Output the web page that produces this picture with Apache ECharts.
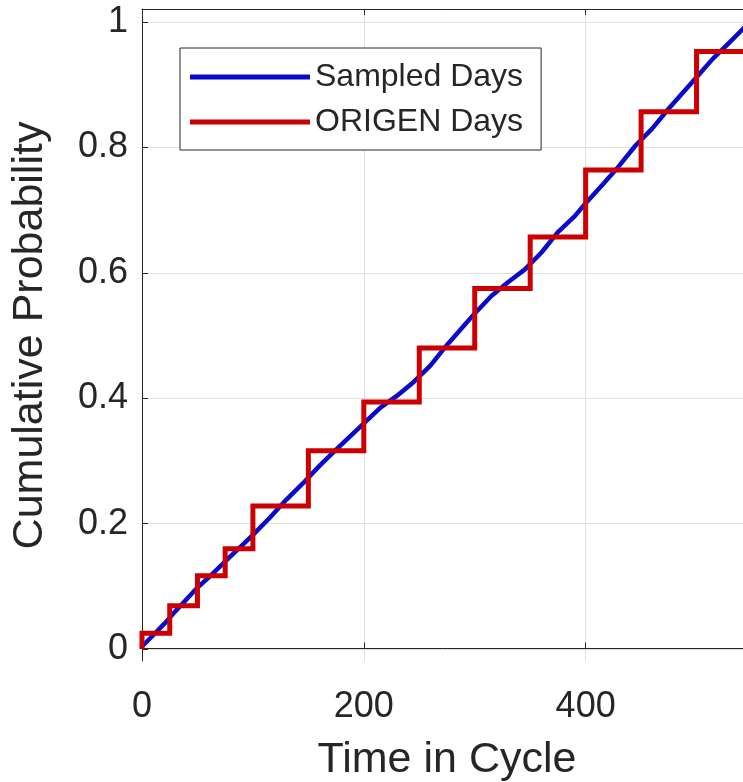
<!DOCTYPE html>
<html>
<head>
<meta charset="utf-8">
<script src="https://cdn.jsdelivr.net/npm/echarts@6/dist/echarts.min.js"></script>
<style>
html,body{margin:0;padding:0;background:#fff;}
#chart{width:743px;height:782px;}
</style>
</head>
<body>
<div id="chart"></div>
<script>
// Sampled cumulative distribution (blue)
const sampledDays = [0, 10, 20, 30, 40, 50, 60, 70, 80, 90, 100, 115, 130, 145, 160, 175, 190, 200, 215, 230, 245, 260, 275, 290, 300, 315, 330, 345, 360, 375, 390, 400, 415, 430, 445, 460, 475, 490, 500, 515, 530, 548];
const sampledProb = [0.004, 0.022, 0.040, 0.060, 0.079, 0.098, 0.114, 0.131, 0.148, 0.165, 0.182, 0.209, 0.238, 0.264, 0.292, 0.318, 0.343, 0.360, 0.385, 0.404, 0.426, 0.452, 0.485, 0.515, 0.535, 0.563, 0.585, 0.605, 0.632, 0.665, 0.690, 0.711, 0.740, 0.770, 0.803, 0.830, 0.862, 0.892, 0.912, 0.942, 0.968, 1.0];
// ORIGEN step function (red): step start days and level after each step
const origenDays = [0, 25, 50, 75, 100, 150, 200, 250, 300, 350, 400, 450, 500];
const origenProb = [0.025, 0.069, 0.117, 0.160, 0.228, 0.316, 0.394, 0.480, 0.575, 0.657, 0.764, 0.857, 0.953];
// axes
const xMin = 0, xMax = 550, xInterval = 200;
const yTickInterval = 0.2;

const blueData = sampledDays.map((d, i) => [d, sampledProb[i]]);
const redData = [[origenDays[0], 0]].concat(origenDays.map((d, i) => [d, origenProb[i]]));
redData.push([xMax, origenProb[origenProb.length - 1]]);

const ink = '#262626';
const gridCol = '#dfdfdf';
const font = 'Liberation Sans, Arial, Helvetica, sans-serif';

const chart = echarts.init(document.getElementById('chart'), null, {renderer: 'canvas'});
chart.setOption({
  animation: false,
  backgroundColor: '#fff',
  grid: [
    {left: 142, top: 9, width: 610, height: 652, outerBoundsMode: 'none', containLabel: false},
    {left: 142, top: 22, width: 610, height: 627, outerBoundsMode: 'none', containLabel: false}
  ],
  legend: {
    orient: 'vertical',
    left: 180, top: 48,
    padding: [13, 18, 12, 10],
    itemGap: 13,
    itemWidth: 120, itemHeight: 5,
    icon: 'rect',
    backgroundColor: '#fff',
    borderColor: ink, borderWidth: 1,
    textStyle: {fontSize: 32, color: ink, fontFamily: font},
    data: ['Sampled Days', 'ORIGEN Days']
  },
  xAxis: [
    {
      gridIndex: 0, type: 'value', position: 'bottom', min: xMin, max: xMax, interval: xInterval,
      axisLine: {show: true, lineStyle: {color: ink, width: 1}},
      axisTick: {show: true, inside: true, length: 6, lineStyle: {color: ink}},
      axisLabel: {fontSize: 36, color: ink, fontFamily: font, margin: 28, showMaxLabel: false},
      splitLine: {show: true, lineStyle: {color: gridCol, width: 1}},
      name: 'Time in Cycle', nameLocation: 'middle', nameGap: 78,
      nameTextStyle: {fontSize: 43, color: ink, fontFamily: font}
    },
    {
      gridIndex: 0, type: 'value', position: 'top', min: xMin, max: xMax, interval: xInterval,
      axisLine: {show: true, lineStyle: {color: ink, width: 1}},
      axisTick: {show: true, inside: true, length: 6, lineStyle: {color: ink}},
      axisLabel: {show: false},
      splitLine: {show: false}
    },
    {
      gridIndex: 1, type: 'value', min: xMin, max: xMax, show: false
    }
  ],
  yAxis: [
    {
      gridIndex: 0, type: 'value', min: -0.02, max: 1.02,
      axisLine: {show: true, lineStyle: {color: ink, width: 1}},
      axisTick: {show: false}, axisLabel: {show: false}, splitLine: {show: false}
    },
    {
      gridIndex: 1, type: 'value', min: 0, max: 1, interval: yTickInterval,
      axisLine: {show: false},
      axisTick: {show: true, inside: true, length: 6, lineStyle: {color: ink}},
      axisLabel: {fontSize: 36, color: ink, fontFamily: font, margin: 14},
      splitLine: {show: true, lineStyle: {color: gridCol, width: 1}},
      name: 'Cumulative Probability', nameLocation: 'middle', nameGap: 90,
      nameTextStyle: {fontSize: 43, color: ink, fontFamily: font}
    }
  ],
  series: [
    {
      name: 'Sampled Days', type: 'line', xAxisIndex: 2, yAxisIndex: 1,
      data: blueData, showSymbol: false, symbol: 'none',
      lineStyle: {color: '#0a0acd', width: 4.5, cap: 'round', join: 'round'},
      itemStyle: {color: '#0a0acd'}
    },
    {
      name: 'ORIGEN Days', type: 'line', xAxisIndex: 2, yAxisIndex: 1,
      data: redData, step: 'end', showSymbol: false, symbol: 'none',
      lineStyle: {color: '#cc0000', width: 5, join: 'miter'},
      itemStyle: {color: '#cc0000'}
    }
  ]
});
</script>
</body>
</html>
